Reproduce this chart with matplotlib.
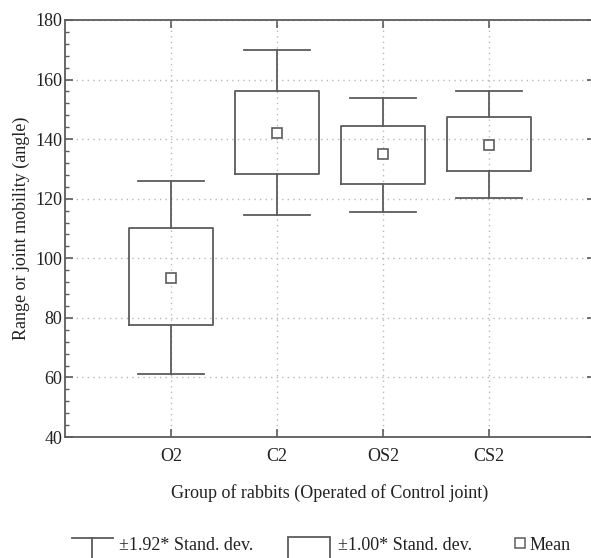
import numpy as np
import matplotlib.pyplot as plt
from matplotlib.ticker import MultipleLocator
from matplotlib.patches import Rectangle
from matplotlib.lines import Line2D

plt.rcParams['font.family'] = ['Liberation Serif', 'DejaVu Serif']

# -----------------------------
# Data
# -----------------------------
groups = ["O2", "C2", "OS2", "CS2"]
means = [93.5, 142.0, 135.0, 138.0]
sd1_low = [77.5, 128.2, 125.0, 129.4]
sd1_high = [110.0, 156.3, 144.5, 147.3]
sd192_low = [61.2, 114.4, 115.5, 120.1]
sd192_high = [126.0, 169.8, 153.8, 156.3]

LINE = "#5c5c5c"
GRID = "#b8b8b8"
FS = 13

fig = plt.figure(figsize=(5.91, 5.58), dpi=100)
W, H = 591, 558
ax = fig.add_axes([65 / W, 1 - 437 / H, 530 / W, 417 / H])

stats = []
for g, m, lo, hi, wlo, whi in zip(groups, means, sd1_low, sd1_high, sd192_low, sd192_high):
    stats.append(dict(label=g, mean=m, med=m, q1=lo, q3=hi, whislo=wlo, whishi=whi, fliers=[]))

pos = np.arange(1, len(groups) + 1)
ax.bxp(
    stats,
    positions=pos,
    widths=0.8,
    capwidths=0.62,
    showmeans=True,
    showfliers=False,
    boxprops=dict(color=LINE, linewidth=1.3),
    whiskerprops=dict(color=LINE, linewidth=1.3),
    capprops=dict(color=LINE, linewidth=1.3),
    medianprops=dict(linewidth=0),
    meanprops=dict(marker="s", markersize=6.5, markerfacecolor="white",
                   markeredgecolor=LINE, markeredgewidth=1.2),
    zorder=3,
)

ax.set_xlim(0, 5)
ax.set_ylim(40, 180)
ax.set_xticks(pos)
ax.set_xticklabels(groups)
ax.yaxis.set_major_locator(MultipleLocator(20))
ax.yaxis.set_minor_locator(MultipleLocator(4))
ax.grid(True, which="major", linestyle=(0, (1, 3)), color=GRID, linewidth=1.0, zorder=0)
ax.set_axisbelow(True)

ax.tick_params(which="both", direction="in", top=True, right=True, colors=LINE,
               labelcolor="#222222", labelsize=FS)
ax.tick_params(which="major", length=6, width=1.2)
ax.tick_params(which="minor", length=3, width=1.0)
ax.tick_params(axis="x", which="minor", top=False, bottom=False)
ax.tick_params(axis="x", pad=8)
ax.tick_params(axis="y", pad=2)
for s in ax.spines.values():
    s.set_color(LINE)
    s.set_linewidth(1.3)

ax.set_xlabel("Group of rabbits (Operated of Control joint)", fontsize=FS, labelpad=14,
              color="#222222")
ax.set_ylabel("Range or joint mobility (angle)", fontsize=FS, labelpad=4, color="#222222")

# -----------------------------
# Legend drawn below the plot
# -----------------------------
def fx(px):
    return px / W

def fy(py):
    return 1 - py / H

fig.add_artist(Line2D([fx(72), fx(113)], [fy(538), fy(538)], color=LINE, lw=1.3))
fig.add_artist(Line2D([fx(92), fx(92)], [fy(538), fy(562)], color=LINE, lw=1.3))
fig.text(fx(119), fy(546), "±1.92* Stand. dev.", fontsize=FS, va="center", ha="left",
         color="#222222")

fig.add_artist(Rectangle((fx(288), fy(566)), fx(42), 29 / H, fill=False,
                         edgecolor=LINE, lw=1.3))
fig.text(fx(338), fy(546), "±1.00* Stand. dev.", fontsize=FS, va="center", ha="left",
         color="#222222")

fig.add_artist(Line2D([fx(519.5)], [fy(543)], marker="s", markersize=7,
                      markerfacecolor="white", markeredgecolor=LINE, markeredgewidth=1.1))
fig.text(fx(530), fy(546), "Mean", fontsize=FS, va="center", ha="left", color="#222222")

fig.savefig("out.png", dpi=100)
